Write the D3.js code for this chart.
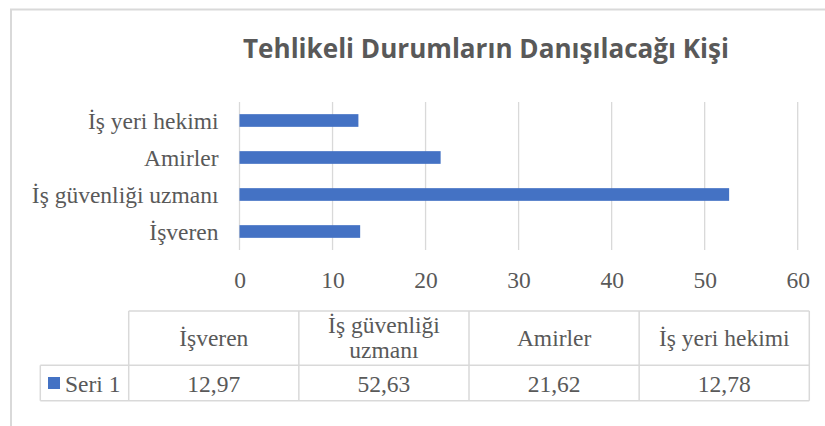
<!DOCTYPE html>
<html>
<head>
<meta charset="utf-8">
<script src="https://cdn.jsdelivr.net/npm/d3@7"></script>
<style>
  html, body { margin: 0; padding: 0; background: #fff; }
  svg { display: block; }
</style>
</head>
<body>
<svg id="chart" width="825" height="426"></svg>
<script>
const title = "Tehlikeli Durumların Danışılacağı Kişi";
const categories = ["İşveren", "İş güvenliği uzmanı", "Amirler", "İş yeri hekimi"];
const seriesName = "Seri 1";
const values = [12.97, 52.63, 21.62, 12.78];
const valueLabels = ["12,97", "52,63", "21,62", "12,78"];
const xTicks = [0, 10, 20, 30, 40, 50, 60];

const textColor = "#595959";
const gridColor = "#d9d9d9";
const barColor = "#4472c4";
const serif = "'Liberation Serif', 'Times New Roman', serif";
const fs = 23.5;

const svg = d3.select("#chart");

// outer chart frame
svg.append("rect")
  .attr("x", 11).attr("y", 9.5)
  .attr("width", 830).attr("height", 430)
  .attr("fill", "none").attr("stroke", gridColor).attr("stroke-width", 2);

// title
svg.append("text")
  .attr("x", 486).attr("y", 57.5)
  .attr("text-anchor", "middle")
  .attr("font-family", "'Open Sans', 'Noto Sans', sans-serif")
  .attr("font-weight", "bold")
  .attr("font-size", 26.5)
  .attr("fill", textColor)
  .attr("textLength", 486).attr("lengthAdjust", "spacingAndGlyphs")
  .text(title);

// scales
const x = d3.scaleLinear().domain([0, 60]).range([239.5, 797.7]);
const yOrder = categories.slice().reverse();
const y = d3.scaleBand().domain(yOrder).range([102, 250])
  .paddingInner(0.657).paddingOuter(0.657 / 2);

// gridlines
svg.append("g").selectAll("line").data(xTicks).join("line")
  .attr("x1", d => x(d)).attr("x2", d => x(d))
  .attr("y1", 102).attr("y2", 250)
  .attr("stroke", gridColor).attr("stroke-width", 1.3);

// bars
svg.append("g").selectAll("rect").data(categories).join("rect")
  .attr("x", x(0))
  .attr("y", d => y(d))
  .attr("width", (d, i) => x(values[i]) - x(0))
  .attr("height", y.bandwidth())
  .attr("fill", barColor);

// x axis tick labels
const xAxis = d3.axisBottom(x).tickValues(xTicks).tickSize(0).tickPadding(0).tickFormat(d3.format("d"));
const gx = svg.append("g").attr("transform", "translate(0,288)").call(xAxis);
gx.select(".domain").remove();
gx.selectAll("text")
  .attr("dy", 0).attr("y", 0)
  .attr("font-family", serif).attr("font-size", fs).attr("fill", textColor);

// y axis category labels
const yAxis = d3.axisLeft(y).tickSize(0).tickPadding(0);
const gy = svg.append("g").attr("transform", "translate(218.5,0)").call(yAxis);
gy.select(".domain").remove();
gy.selectAll("text")
  .attr("dy", "0.34em")
  .attr("font-family", serif).attr("font-size", fs).attr("fill", textColor);

// data table
const col = d3.scaleBand().domain(categories).range([128.7, 809.3]);
const headTop = 311, rowTop = 365.3, rowBottom = 400.7, legendLeft = 40.3;
const tbl = svg.append("g");
function line(x1, y1, x2, y2) {
  tbl.append("line").attr("x1", x1).attr("y1", y1).attr("x2", x2).attr("y2", y2)
    .attr("stroke", gridColor).attr("stroke-width", 1.5);
}
line(col.range()[0], headTop, col.range()[1], headTop);
line(legendLeft, rowTop, col.range()[1], rowTop);
line(legendLeft, rowBottom, col.range()[1], rowBottom);
line(legendLeft, rowTop, legendLeft, rowBottom);
categories.forEach(c => line(col(c), headTop, col(c), rowBottom));
line(col.range()[1], headTop, col.range()[1], rowBottom);

// header labels (wrapped)
categories.forEach(c => {
  const cx = col(c) + col.bandwidth() / 2;
  const txt = tbl.append("text")
    .attr("x", cx).attr("text-anchor", "middle")
    .attr("font-family", serif).attr("font-size", fs).attr("fill", textColor);
  const words = c.split(" ");
  const lines = [];
  let cur = [];
  const maxW = col.bandwidth() - 10;
  words.forEach(w => {
    const test = cur.concat([w]).join(" ");
    txt.text(test);
    if (txt.node().getComputedTextLength() > maxW && cur.length) {
      lines.push(cur.join(" "));
      cur = [w];
    } else cur.push(w);
  });
  lines.push(cur.join(" "));
  txt.text(null);
  const lh = 25;
  const midBase = 345.5;
  const first = midBase - (lines.length - 1) * lh / 2;
  lines.forEach((l, i) => {
    txt.append("tspan").attr("x", cx).attr("y", first + i * lh).text(l);
  });
});

// values row
tbl.selectAll("text.val").data(categories).join("text")
  .attr("class", "val")
  .attr("x", d => col(d) + col.bandwidth() / 2)
  .attr("y", 391.5)
  .attr("text-anchor", "middle")
  .attr("font-family", serif).attr("font-size", fs).attr("fill", textColor)
  .text((d, i) => valueLabels[i]);

// legend key
tbl.append("rect").attr("x", 48).attr("y", 377).attr("width", 12).attr("height", 12).attr("fill", barColor);
tbl.append("text").attr("x", 65).attr("y", 391.5)
  .attr("font-family", serif).attr("font-size", fs).attr("fill", textColor)
  .text(seriesName);
</script>
</body>
</html>
